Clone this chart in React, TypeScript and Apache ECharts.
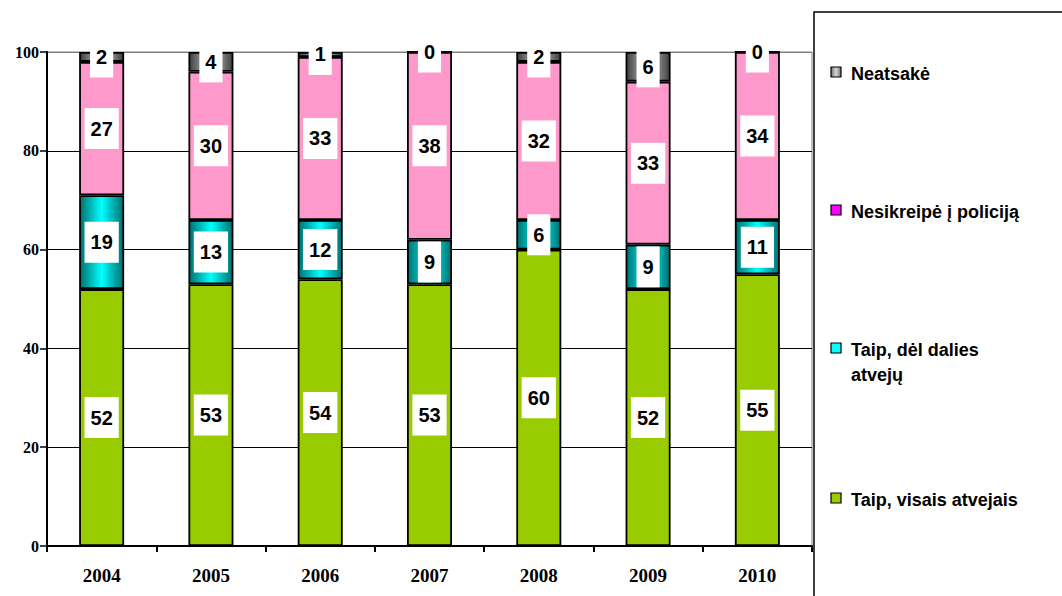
import React, { useEffect, useRef } from "react";
import * as echarts from "echarts";

const years = ["2004", "2005", "2006", "2007", "2008", "2009", "2010"];
const taipVisais = [52, 53, 54, 53, 60, 52, 55];
const taipDalies = [19, 13, 12, 9, 6, 9, 11];
const nesikreipe = [27, 30, 33, 38, 32, 33, 34];
const neatsake = [2, 4, 1, 0, 2, 6, 0];
const yTicks = [0, 20, 40, 60, 80, 100];

const legendNames = ["Neatsakė", "Nesikreipė į policiją", "Taip, dėl dalies\natvejų", "Taip, visais atvejais"];

export default function App() {
  const ref = useRef<HTMLDivElement>(null);
  useEffect(() => {
    if (!ref.current) return;
    const chart = echarts.init(ref.current, null, { renderer: "svg" });
    const tealGrad = new echarts.graphic.LinearGradient(0, 0, 1, 0, [
      { offset: 0, color: "#007070" },
      { offset: 0.5, color: "#00FFFF" },
      { offset: 1, color: "#007070" },
    ]);
    const grayGrad = new echarts.graphic.LinearGradient(0, 0, 1, 0, [
      { offset: 0, color: "#404040" },
      { offset: 0.5, color: "#C8C8C8" },
      { offset: 1, color: "#404040" },
    ]);
    const grayMarker = new echarts.graphic.LinearGradient(0, 0, 1, 0, [
      { offset: 0, color: "#707070" },
      { offset: 0.5, color: "#D8D8D8" },
      { offset: 1, color: "#707070" },
    ]);
    const label = {
      show: true,
      position: "inside",
      color: "#000",
      fontFamily: "'Liberation Sans', Arial, sans-serif",
      fontWeight: "bold",
      fontSize: 20,
      backgroundColor: "#fff",
      padding: [11, 6, 10, 6],
      formatter: (p: any) => String(p.value),
    };
    const mk = (name: string, data: number[], color: any) => ({
      name,
      type: "bar",
      stack: "s",
      data,
      barWidth: 45,
      itemStyle: { color, borderColor: "#000", borderWidth: 1.8 },
      label,
    });
    const legendColors = [grayMarker, "#FF00FF", "#00FFFF", "#99CC00"];
    const legendY = [72, 210, 348, 498];
    const legendGraphics: any[] = [
      {
        type: "rect",
        shape: { x: 814, y: 12, width: 260, height: 600 },
        style: { fill: "#fff", stroke: "#000", lineWidth: 1.5 },
        z: 100,
      },
    ];
    legendNames.forEach((n, i) => {
      legendGraphics.push({
        type: "rect",
        shape: { x: 831, y: legendY[i] - 5, width: 10, height: 10 },
        style: { fill: legendColors[i], stroke: "#000", lineWidth: 1.2 },
        z: 101,
      });
      legendGraphics.push({
        type: "text",
        x: 851,
        y: legendY[i] - 11,
        style: {
          text: n,
          fill: "#000",
          font: "bold 18px 'Liberation Sans', Arial, sans-serif",
          lineHeight: 25,
          textVerticalAlign: "top",
        },
        z: 101,
      });
    });
    chart.setOption({
      animation: false,
      backgroundColor: "#fff",
      grid: {
        left: 47,
        right: 250,
        top: 52,
        bottom: 50,
        show: true,
        borderColor: "#808080",
        borderWidth: 1,
      },
      xAxis: {
        type: "category",
        data: years,
        axisLine: { lineStyle: { color: "#000", width: 2 } },
        axisTick: { show: true, length: 6, lineStyle: { color: "#000", width: 2 } },
        axisLabel: {
          color: "#000",
          fontFamily: "'Liberation Serif', 'Times New Roman', serif",
          fontWeight: "bold",
          fontSize: 19,
          margin: 20,
        },
      },
      yAxis: {
        type: "value",
        min: yTicks[0],
        max: yTicks[yTicks.length - 1],
        interval: 20,
        axisLine: { show: true, lineStyle: { color: "#000", width: 2 } },
        axisTick: { show: true, length: 7, lineStyle: { color: "#000", width: 1.5 } },
        axisLabel: {
          color: "#000",
          fontFamily: "'Liberation Serif', 'Times New Roman', serif",
          fontWeight: "bold",
          fontSize: 16,
          margin: 8,
        },
        splitLine: {
          show: true,
          lineStyle: { color: ["#000", "#000", "#000", "#000", "#000", "#808080"], width: 1.2 },
        },
      },
      series: [
        mk("Taip, visais atvejais", taipVisais, "#99CC00"),
        mk("Taip, dėl dalies atvejų", taipDalies, tealGrad),
        mk("Nesikreipė į policiją", nesikreipe, "#FF99CC"),
        mk("Neatsakė", neatsake, grayGrad),
      ],
      graphic: legendGraphics,
    });
    return () => chart.dispose();
  }, []);
  return (
    <div
      ref={ref}
      style={{ position: "absolute", left: 0, top: 0, width: 1062, height: 596 }}
    />
  );
}
